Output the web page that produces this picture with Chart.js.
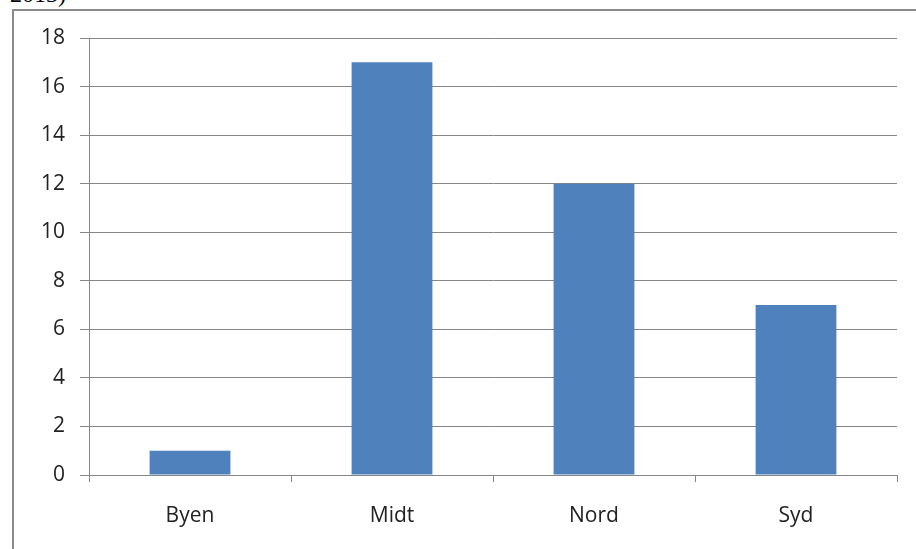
<!DOCTYPE html>
<html>
<head>
<meta charset="utf-8">
<script src="https://cdn.jsdelivr.net/npm/chart.js@4/dist/chart.umd.min.js"></script>
<style>
  html, body { margin: 0; padding: 0; background: #fff; overflow: hidden; }
  #wrap { position: relative; width: 916px; height: 549px; }
  #caption { position: absolute; left: 10px; top: -19px; font: 24px "Liberation Serif", serif; color: #000; }
  #frame { position: absolute; left: 12px; top: 9px; width: 920px; height: 560px; border: 2px solid #8a8a8a; box-sizing: border-box; }
  #chartdiv { position: absolute; left: 0; top: 0; }
</style>
</head>
<body>
<div id="wrap">
  <div id="caption">2013)</div>
  <div id="frame"></div>
  <canvas id="chartdiv" width="916" height="549"></canvas>
</div>
<script>
var categories = ['Byen', 'Midt', 'Nord', 'Syd'];
var values = [1, 17, 12, 7];
var yTicks = [0, 2, 4, 6, 8, 10, 12, 14, 16, 18];

var axisFont = { family: "'Open Sans', 'Noto Sans', sans-serif", size: 21 };

var ctx1 = document.getElementById('chartdiv');
var barChart = new Chart(ctx1, {
    type: 'bar',
    data: {
        labels: categories,
        datasets: [{
            data: values,
            backgroundColor: '#4F81BD',
            borderWidth: 0,
            categoryPercentage: 1,
            barPercentage: 0.4
        }]
    },
    options: {
        responsive: false,
        animation: false,
        layout: { padding: { top: 38, right: 19, left: 0, bottom: 0 } },
        plugins: { legend: { display: false }, tooltip: { enabled: false } },
        scales: {
            x: {
                grid: { drawOnChartArea: false, drawTicks: true, tickLength: 7, color: '#868686', offset: true },
                border: { display: true, color: '#868686' },
                ticks: { color: '#222', font: axisFont, padding: 21 },
                afterFit: function(scale) { scale.height = 74; }
            },
            y: {
                min: 0,
                max: 18,
                afterBuildTicks: function(scale) {
                    scale.ticks = yTicks.map(function(v) { return { value: v }; });
                },
                grid: { color: '#868686', tickLength: 9 },
                border: { display: true, color: '#868686' },
                ticks: { color: '#222', font: axisFont, padding: 15 },
                afterFit: function(scale) { scale.width = 89; }
            }
        }
    }
});
</script>
</body>
</html>
